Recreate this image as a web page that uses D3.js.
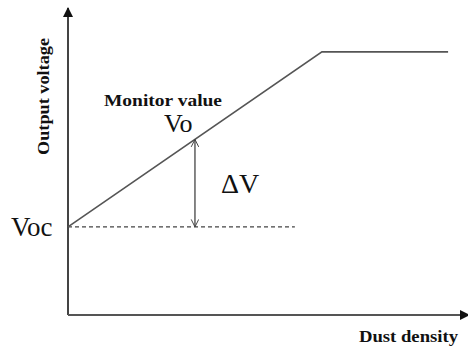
<!DOCTYPE html>
<html>
<head>
<meta charset="utf-8">
<script src="https://cdn.jsdelivr.net/npm/d3@7"></script>
<style>
  body { margin: 0; background: #fff; }
</style>
</head>
<body>
<div id="chart"></div>
<script>
// sensor response curve (arbitrary units, 0..100 on both axes)
var curveX = [0, 63.8, 95.5]
var curveY = [28.7, 85.7, 85.7]
var vocLevel = 28.7
var dashEnd = 57
var monitorX = 31.9

var w = 468, h = 349
var serif = "'Liberation Serif', 'Times New Roman', 'DejaVu Serif', serif"

var x = d3.scaleLinear().domain([0, 100]).range([68, 466])
var y = d3.scaleLinear().domain([0, 100]).range([315, 8])

var svg = d3.select('#chart').append('svg')
  .attr('width', w)
  .attr('height', h)
  .style('font-family', serif)

var defs = svg.append('defs')
defs.append('marker')
  .attr('id', 'solid')
  .attr('viewBox', '0 0 10 10')
  .attr('refX', 9).attr('refY', 5)
  .attr('markerWidth', 5).attr('markerHeight', 5)
  .attr('markerUnits', 'strokeWidth')
  .attr('orient', 'auto')
  .append('path').attr('d', 'M0,0L10,5L0,10Z').attr('fill', '#111')
defs.append('marker')
  .attr('id', 'open')
  .attr('viewBox', '0 0 12 12')
  .attr('refX', 11).attr('refY', 6)
  .attr('markerWidth', 9).attr('markerHeight', 9)
  .attr('markerUnits', 'userSpaceOnUse')
  .attr('orient', 'auto-start-reverse')
  .append('path').attr('d', 'M1,1L11,6L1,11').attr('fill', 'none')
  .attr('stroke', '#444').attr('stroke-width', 1.3)

// axes
svg.append('line')
  .attr('x1', x(0)).attr('y1', y(0))
  .attr('x2', x(0)).attr('y2', y(100))
  .attr('stroke', '#444').attr('stroke-width', 2)
  .attr('marker-end', 'url(#solid)')
svg.append('line')
  .attr('x1', x(0)).attr('y1', y(0))
  .attr('x2', x(100) + 3).attr('y2', y(0))
  .attr('stroke', '#555').attr('stroke-width', 2)
  .attr('marker-end', 'url(#solid)')

// Voc dashed reference
svg.append('line')
  .attr('x1', x(0)).attr('y1', y(vocLevel))
  .attr('x2', x(dashEnd)).attr('y2', y(vocLevel))
  .attr('stroke', '#444').attr('stroke-width', 1.2)
  .attr('stroke-dasharray', '4,3')

// response curve
var pts = curveX.map(function(d, i) { return [d, curveY[i]] })
var line = d3.line()
  .x(function(d) { return x(d[0]) })
  .y(function(d) { return y(d[1]) })
svg.append('path')
  .datum(pts)
  .attr('d', line)
  .attr('fill', 'none')
  .attr('stroke', '#555')
  .attr('stroke-width', 1.6)

// monitor value on the curve
var slope = (curveY[1] - curveY[0]) / (curveX[1] - curveX[0])
var monitorY = curveY[0] + slope * monitorX

svg.append('line')
  .attr('x1', x(monitorX)).attr('y1', y(monitorY))
  .attr('x2', x(monitorX)).attr('y2', y(vocLevel))
  .attr('stroke', '#444').attr('stroke-width', 1.3)
  .attr('marker-start', 'url(#open)')
  .attr('marker-end', 'url(#open)')

// labels
function label(txt) {
  return svg.append('text')
    .attr('font-family', serif)
    .attr('fill', '#111')
    .text(txt)
}

label('Output voltage')
  .attr('transform', 'translate(49,155) rotate(-90)')
  .attr('font-size', 16).attr('font-weight', 'bold')
  .attr('textLength', 117).attr('lengthAdjust', 'spacingAndGlyphs')

label('Monitor value')
  .attr('x', 104).attr('y', 106)
  .attr('font-size', 16).attr('font-weight', 'bold')
  .attr('textLength', 118).attr('lengthAdjust', 'spacingAndGlyphs')

label('Vo')
  .attr('x', 164).attr('y', 132)
  .attr('font-size', 26)

label('ΔV')
  .attr('x', 221).attr('y', 193)
  .attr('font-size', 28)

label('Voc')
  .attr('x', 11).attr('y', 236)
  .attr('font-size', 27)

label('Dust density')
  .attr('x', 359).attr('y', 342)
  .attr('font-size', 16).attr('font-weight', 'bold')
  .attr('textLength', 99).attr('lengthAdjust', 'spacingAndGlyphs')
</script>
</body>
</html>
